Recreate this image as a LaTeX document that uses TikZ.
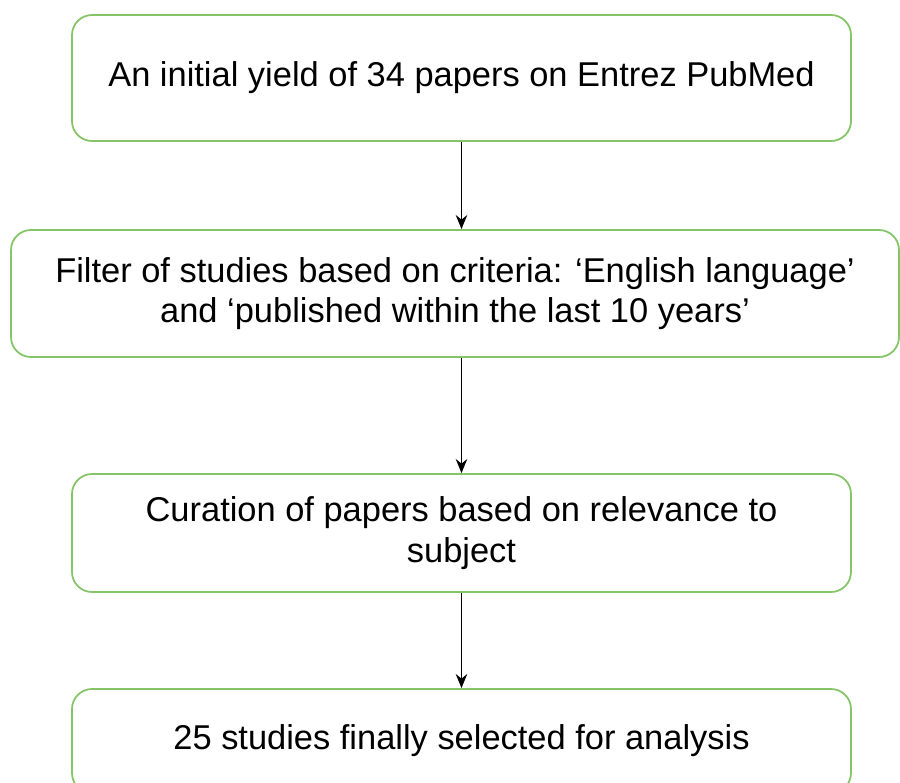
\documentclass[tikz,border=0pt]{standalone}
\usepackage{fontspec}
\setmainfont{Liberation Sans}
\usetikzlibrary{arrows.meta}
\definecolor{boxgreen}{RGB}{134,196,104}
\begin{document}
\begin{tikzpicture}[
    x=0.02cm, y=-0.02cm,
    font=\fontsize{19.6}{22.9}\selectfont,
    stepbox/.style={draw=boxgreen, line width=1pt, rounded corners=0.4cm,
                    align=center, inner sep=0pt},
    flow/.style={-{Stealth[length=8pt,width=6.5pt]}, line width=1.1pt}
]
\useasboundingbox (0,0) rectangle (900,782);
\clip (0,0) rectangle (900,782);

% Steps
\node[stepbox, minimum width=779*0.02cm, minimum height=126*0.02cm] (yield) at (461.5,78)
    {An initial yield of 34 papers on Entrez PubMed};
\node[stepbox, minimum width=888*0.02cm, minimum height=127*0.02cm] (filter) at (455,293.5)
    {Filter of studies based on criteria: `English language'\\and `published within the last 10 years'};
\node[stepbox, minimum width=779*0.02cm, minimum height=118*0.02cm] (curate) at (461.5,533)
    {Curation of papers based on relevance to\\subject};
\node[stepbox, minimum width=779*0.02cm, minimum height=104*0.02cm] (select) at (461.5,741)
    {25 studies finally selected for analysis};

% Arrows
\draw[flow] (yield.south) -- (yield.south |- filter.north);
\draw[flow] (yield.south |- filter.south) -- (curate.north);
\draw[flow] (curate.south) -- (select.north);

\end{tikzpicture}
\end{document}
